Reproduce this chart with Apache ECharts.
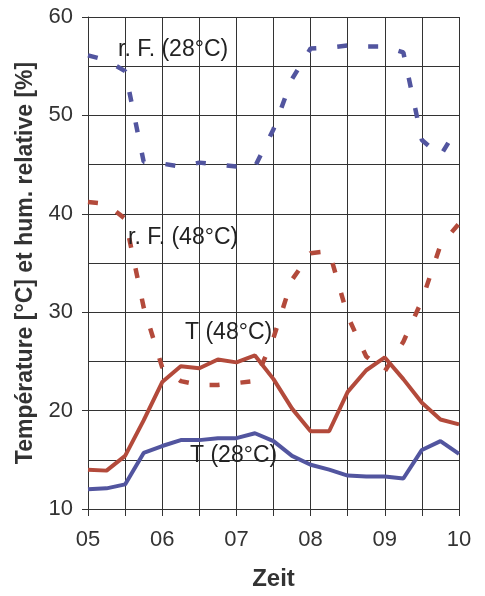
<!DOCTYPE html>
<html>
<head>
  <meta charset="UTF-8">
  <title>Zeit</title>
  <style>
    * { margin: 0; padding: 0; box-sizing: border-box; }
    body { width: 485px; height: 596px; background: #fff; overflow: hidden; }
    #chart { width: 485px; height: 596px; }
  </style>
  <script src="https://cdn.jsdelivr.net/npm/echarts@6/dist/echarts.min.js"></script>
</head>
<body>
  <div id="chart"></div>
  <script>
    // Zeit (Tage), Messpunkte alle 6 h
    const zeit = [5, 5.25, 5.5, 5.75, 6, 6.25, 6.5, 6.75, 7, 7.25, 7.5, 7.75, 8, 8.25, 8.5, 8.75, 9, 9.25, 9.5, 9.75, 10]

    // relative Feuchte [%]
    const rf28 = [56.1, 55.6, 54.5, 45.3, 45.1, 44.8, 45.2, 45.0, 44.8, 44.8, 48.6, 53.7, 56.8, 56.9, 57.1, 57.0, 57.0, 56.4, 47.5, 45.9, 49.0]
    const rf48 = [41.2, 41.0, 39.5, 30.5, 24.4, 23.0, 22.6, 22.6, 22.8, 23.0, 27.4, 33.3, 36.0, 36.2, 29.6, 25.5, 24.0, 27.0, 31.2, 36.8, 39.0]

    // Temperatur [°C]
    const t48 = [14.0, 13.9, 15.4, 19.0, 22.9, 24.5, 24.3, 25.2, 24.9, 25.6, 23.2, 20.2, 17.9, 17.9, 21.9, 24.1, 25.4, 23.2, 20.8, 19.1, 18.6]
    const t28 = [12.0, 12.1, 12.5, 15.7, 16.4, 17.0, 17.0, 17.2, 17.2, 17.7, 16.9, 15.4, 14.5, 14.0, 13.4, 13.3, 13.3, 13.1, 16.0, 16.9, 15.6]

    const xLabels = { 5: '05', 6: '06', 7: '07', 8: '08', 9: '09', 10: '10' }

    const blue = '#52559f'
    const red = '#b34a3b'
    const ink = '#333'
    const font = 'Liberation Sans, Arial, sans-serif'

    const pairs = (ys) => zeit.map((x, i) => [x, ys[i]])

    const chart = echarts.init(document.getElementById('chart'))

    const dashed = (name, ys, color) => ({
      name,
      type: 'line',
      data: pairs(ys),
      showSymbol: false,
      lineStyle: { color, width: 4.5, type: [10, 21], cap: 'butt' },
      z: 2
    })

    const solid = (name, ys, color) => ({
      name,
      type: 'line',
      data: pairs(ys),
      showSymbol: false,
      lineStyle: { color, width: 4 },
      z: 3
    })

    const option = {
      backgroundColor: '#fff',
      animation: false,
      grid: { left: 88, right: 26, top: 17, bottom: 86 },
      xAxis: {
        type: 'value',
        min: 5,
        max: 10,
        interval: 0.5,
        name: 'Zeit',
        nameLocation: 'middle',
        nameGap: 58,
        nameTextStyle: { fontFamily: font, fontSize: 24, fontWeight: 'bold', color: ink },
        axisLine: { lineStyle: { color: ink, width: 1 } },
        axisTick: { show: true, length: 7, lineStyle: { color: ink } },
        axisLabel: {
          margin: 20,
          fontFamily: font,
          fontSize: 22,
          color: ink,
          formatter: v => xLabels[v] || ''
        },
        splitLine: { show: true, lineStyle: { color: ink, width: 1 } }
      },
      yAxis: {
        type: 'value',
        min: 10,
        max: 60,
        interval: 10,
        name: 'Température [°C] et hum. relative [%]',
        nameLocation: 'middle',
        nameGap: 51,
        nameTextStyle: { fontFamily: font, fontSize: 23, fontWeight: 'bold', color: ink },
        axisLine: { show: true, lineStyle: { color: ink, width: 1 } },
        axisTick: { show: true, length: 6, lineStyle: { color: ink } },
        axisLabel: { margin: 15, fontFamily: font, fontSize: 22, color: ink },
        splitLine: { show: true, lineStyle: { color: ink, width: 1 } },
        minorTick: { show: false, splitNumber: 2 },
        minorSplitLine: { show: true, lineStyle: { color: ink, width: 1 } }
      },
      series: [
        dashed('r. F. (28°C)', rf28, blue),
        dashed('r. F. (48°C)', rf48, red),
        solid('T (48°C)', t48, red),
        solid('T (28°C)', t28, blue)
      ],
      // Beschriftungen der Kurven
      graphic: [
        { type: 'text', x: 118, y: 50, z: 10, style: { text: 'r. F. (28°C)', font: '23px ' + font, fill: '#222', verticalAlign: 'middle' } },
        { type: 'text', x: 128, y: 238, z: 10, style: { text: 'r. F. (48°C)', font: '23px ' + font, fill: '#222', verticalAlign: 'middle' } },
        { type: 'text', x: 185, y: 333, z: 10, style: { text: 'T (48°C)', font: '23px ' + font, fill: '#222', verticalAlign: 'middle' } },
        { type: 'text', x: 190, y: 456, z: 10, style: { text: 'T (28°C)', font: '23px ' + font, fill: '#222', verticalAlign: 'middle' } }
      ]
    }

    chart.setOption(option)
  </script>
</body>
</html>
